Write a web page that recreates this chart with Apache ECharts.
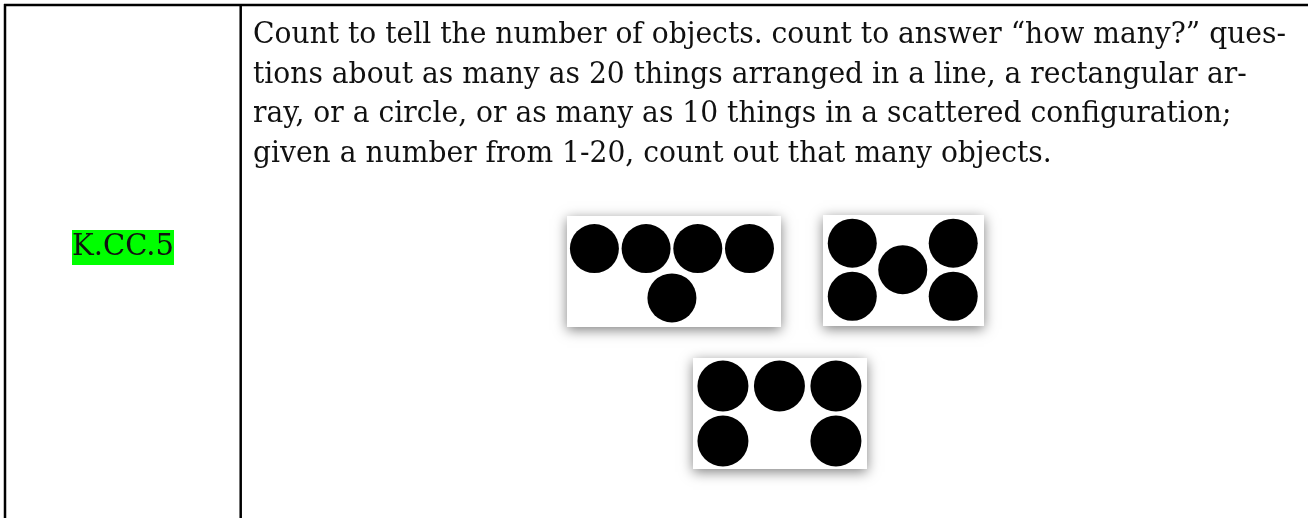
<!DOCTYPE html>
<html lang="en">
<head>
  <meta charset="UTF-8">
  <title>K.CC.5</title>
  <script src="https://cdn.jsdelivr.net/npm/echarts/dist/echarts.min.js"></script>
  <style>
    html, body { margin: 0; padding: 0; background: #fff; }
    #chart { width: 1308px; height: 518px; }
  </style>
</head>
<body>
  <div id="chart"></div>
  <script>
    // standard code and its description (one entry per printed line)
    const standardCode = 'K.CC.5';
    const textLines = [
      'Count to tell the number of objects. count to answer \u201chow many?\u201d ques-',
      'tions about as many as 20 things arranged in a line, a rectangular ar-',
      'ray, or a circle, or as many as 10 things in a scattered configuration;',
      'given a number from 1-20, count out that many objects.'
    ];

    // dot arrangements, [column, row] inside each card
    const lineDots = [[0, 0], [1, 0], [2, 0], [3, 0], [1.5, 1]];
    const diceDots = [[0, 0], [2, 0], [1, 0.5], [0, 1], [2, 1]];
    const arrayDots = [[0, 0], [1, 0], [2, 0], [0, 1], [2, 1]];

    const FONT = '"DejaVu Serif", serif';
    const fontSize = 29;

    // measure text so the serif lines keep the width of the original
    const ctx = document.createElement('canvas').getContext('2d');
    ctx.font = fontSize + 'px ' + FONT;
    const bodyScale = 1033 / ctx.measureText(textLines[0]).width;
    const codeScale = 102 / ctx.measureText(standardCode).width;

    const chart = echarts.init(document.getElementById('chart'), null, { renderer: 'canvas' });

    const cards = [
      { dots: lineDots,  left: 567, top: 216, width: 214, height: 111, x: [-0.53, 3.61], y: [-0.66, 1.59], size: 49 },
      { dots: diceDots,  left: 823, top: 215, width: 161, height: 111, x: [-0.58, 2.61], y: [-0.53, 1.56], size: 49 },
      { dots: arrayDots, left: 693, top: 358, width: 174, height: 111, x: [-0.53, 2.55], y: [-0.51, 1.51], size: 51 }
    ];

    const grid = cards.map(c => ({
      show: true,
      left: c.left, top: c.top, width: c.width, height: c.height,
      backgroundColor: '#fff',
      borderWidth: 0,
      shadowBlur: 12,
      shadowColor: 'rgba(0,0,0,0.5)',
      shadowOffsetY: 3
    }));
    const xAxis = cards.map((c, i) => ({ type: 'value', gridIndex: i, min: c.x[0], max: c.x[1], show: false }));
    const yAxis = cards.map((c, i) => ({ type: 'value', gridIndex: i, min: c.y[0], max: c.y[1], inverse: true, show: false }));
    const series = cards.map((c, i) => ({
      type: 'scatter',
      xAxisIndex: i, yAxisIndex: i,
      data: c.dots,
      symbolSize: c.size,
      itemStyle: { color: '#000', opacity: 1 },
      silent: true
    }));

    const graphic = [
      // table rules
      { type: 'line', shape: { x1: 4, y1: 5, x2: 1308, y2: 5 }, style: { stroke: '#000', lineWidth: 2.5 } },
      { type: 'line', shape: { x1: 5, y1: 4, x2: 5, y2: 518 }, style: { stroke: '#000', lineWidth: 2.5 } },
      { type: 'line', shape: { x1: 240.7, y1: 4, x2: 240.7, y2: 518 }, style: { stroke: '#000', lineWidth: 2.5 } },
      // highlighted code
      {
        type: 'text', x: 72, y: 247.5, scaleX: codeScale,
        style: {
          text: standardCode, font: fontSize + 'px ' + FONT, fill: '#111',
          verticalAlign: 'middle', lineHeight: 35,
          backgroundColor: '#00ff00'
        }
      }
    ];
    textLines.forEach((t, i) => {
      graphic.push({
        type: 'text', x: 253, y: 35.5 + i * 39.5, scaleX: bodyScale,
        style: { text: t, font: fontSize + 'px ' + FONT, fill: '#111', verticalAlign: 'middle' }
      });
    });

    chart.setOption({
      animation: false,
      grid: grid,
      xAxis: xAxis,
      yAxis: yAxis,
      series: series,
      graphic: graphic
    });
  </script>
</body>
</html>
